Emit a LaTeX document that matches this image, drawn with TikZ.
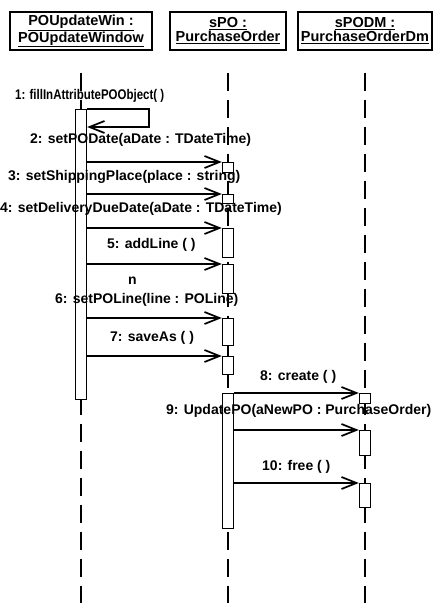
\documentclass[tikz,border=0pt]{standalone}
\usepackage{fontspec}
\setmainfont{Liberation Sans}
\usepackage{tikz}
\usetikzlibrary{arrows.meta}

\begin{document}
\begin{tikzpicture}[
  x=1pt, y=-1pt,
  obj/.style={draw, line width=1.4pt, minimum height=38pt, align=center, inner sep=1pt, font=\fontsize{14.5}{14}\selectfont\bfseries},
  act/.style={draw, line width=1.4pt, fill=white, minimum width=11pt, inner sep=0pt, anchor=north},
  life/.style={line width=1.5pt, dash pattern=on 18pt off 9pt},
  msg/.style={line width=1.5pt, -{Straight Barb[length=15pt, width=12pt, line width=1.7pt]}},
  lbl/.style={font=\fontsize{14}{15}\selectfont\bfseries, inner sep=0pt, anchor=west}
]
\useasboundingbox (0,0) rectangle (433,603);
\coordinate (bot) at (0,603);

\node[obj, minimum width=142pt] (win) at (81,31) {\underline{POUpdateWin :}\\\underline{POUpdateWindow}};
\node[obj, minimum width=116pt] (po) at (228,31) {\underline{sPO :}\\\underline{PurchaseOrder}};
\node[obj, minimum width=134pt] (podm) at (365,31) {\underline{sPODM :}\\\underline{PurchaseOrderDm}};

\draw[life] ([yshift=-22pt]win.south) -- (win.south |- bot);
\draw[life] ([yshift=-22pt]po.south) -- (po.south |- bot);
\draw[life] ([yshift=-22pt]podm.south) -- (podm.south |- bot);

\node[act, minimum height=290pt] (w1) at (81,109) {};
\node[act, minimum height=10pt] (p2) at (228,162) {};
\node[act, minimum height=9pt] (p3) at (228,194) {};
\node[act, minimum height=29pt] (p4) at (228,228) {};
\node[act, minimum height=29pt] (p5) at (228,264) {};
\node[act, minimum height=27pt] (p6) at (228,318) {};
\node[act, minimum height=18pt] (p7) at (228,356) {};
\node[act, minimum height=135pt] (p8) at (228,393) {};
\node[act, minimum height=10pt] (d8) at (365,393) {};
\node[act, minimum height=25pt] (d9) at (365,430) {};
\node[act, minimum height=24pt] (d10) at (365,483) {};

\node[lbl] (l1) at (15,96) {\scalebox{0.82}[1]{1: fillInAttributePOObject( )}};
\node[lbl] (l2) at (30,140) {2: setPODate(aDate : TDateTime)};
\node[lbl] (l3) at (8,177) {3: setShippingPlace(place : string)};
\node[lbl] (l4) at (0,209) {4: setDeliveryDueDate(aDate : TDateTime)};
\node[lbl] (l5) at (107,245) {5: addLine ( )};
\node[lbl] (ln) at (128,281) {n};
\node[lbl] (l6) at (55,300) {6: setPOLine(line : POLine)};
\node[lbl] (l7) at (110,338) {7: saveAs ( )};
\node[lbl] (l8) at (260,377) {8: create ( )};
\node[lbl] (l9) at (166,411) {9: UpdatePO(aNewPO : PurchaseOrder)};
\node[lbl] (l10) at (262,467) {10: free ( )};

\draw[msg] (w1.north east) -- ++(62,0) -- ++(0,18) -- ([yshift=-18pt]w1.north east);
\draw[msg] (w1.east |- p2.north) -- (p2.north west);
\draw[msg] (w1.east |- p3.north) -- (p3.north west);
\draw[msg] (w1.east |- p4.north) -- (p4.north west);
\draw[msg] (w1.east |- p5.north) -- (p5.north west);
\draw[msg] (w1.east |- p6.north) -- (p6.north west);
\draw[msg] (w1.east |- p7.north) -- (p7.north west);
\draw[msg] (p8.north east) -- (d8.north west);
\draw[msg] (p8.east |- d9.north) -- (d9.north west);
\draw[msg] (p8.east |- d10.north) -- (d10.north west);
\end{tikzpicture}
\end{document}
